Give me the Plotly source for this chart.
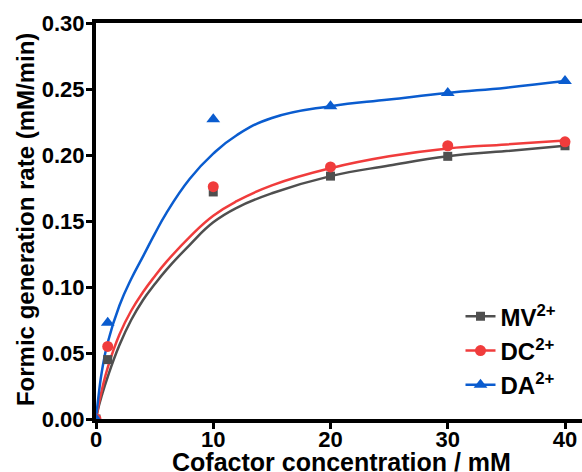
import plotly.graph_objects as go

# Measured data points
conc = [0, 1, 10, 20, 30, 40]
mv_rate = [0.0, 0.045, 0.172, 0.184, 0.199, 0.207]
dc_rate = [0.0, 0.055, 0.176, 0.191, 0.207, 0.210]
da_rate = [0.0, 0.073, 0.227, 0.237, 0.247, 0.256]

# Fitted curves
fit_x = [0, 0.25, 0.5, 1, 2, 3, 4, 5, 6, 8, 10, 12, 15, 20, 25, 30, 35, 40]
mv_fit = [0, 0.010, 0.018, 0.032, 0.056, 0.075, 0.090, 0.102, 0.113, 0.132,
          0.149, 0.160, 0.171, 0.184, 0.192, 0.199, 0.203, 0.207]
dc_fit = [0, 0.012, 0.022, 0.039, 0.064, 0.082, 0.096, 0.108, 0.119, 0.138,
          0.154, 0.165, 0.177, 0.190, 0.199, 0.205, 0.208, 0.211]
da_fit = [0, 0.020, 0.036, 0.058, 0.086, 0.106, 0.123, 0.140, 0.156, 0.182,
          0.201, 0.215, 0.228, 0.237, 0.242, 0.247, 0.251, 0.256]

names = ["MV<sup>2+</sup>", "DC<sup>2+</sup>", "DA<sup>2+</sup>"]
colors = ["#4f4f4f", "#f03c3c", "#0a5ccf"]
symbols = ["square", "circle", "triangle-up"]
msizes = [9, 11, 12]

x_ticks = [0, 10, 20, 30, 40]
y_ticks = [0.00, 0.05, 0.10, 0.15, 0.20, 0.25, 0.30]

x_title = "Cofactor concentration / mM"
y_title = "Formic generation rate (mM/min)"

FONT = "Arial, Liberation Sans, sans-serif"

fig = go.Figure()
for fy, c in zip([mv_fit, dc_fit, da_fit], colors):
    fig.add_trace(go.Scatter(x=fit_x, y=fy, mode="lines",
                             line=dict(color=c, width=2.5, shape="spline", smoothing=1.3),
                             showlegend=False, hoverinfo="skip"))
for dy, c, s, ms in zip([mv_rate, dc_rate, da_rate], colors, symbols, msizes):
    fig.add_trace(go.Scatter(x=conc, y=dy, mode="markers",
                             marker=dict(color=c, symbol=s, size=ms),
                             showlegend=False))
for n, c, s, ms in zip(names, colors, symbols, msizes):
    fig.add_trace(go.Scatter(x=[None], y=[None], mode="lines+markers", name=n,
                             line=dict(color=c, width=2.5),
                             marker=dict(color=c, symbol=s, size=ms)))

fig.update_layout(
    width=582, height=472,
    margin=dict(l=96, r=0, t=23, b=53, autoexpand=False),
    plot_bgcolor="white", paper_bgcolor="white",
    font=dict(family=FONT, size=22, color="black"),
    legend=dict(x=0.75, y=0.315, xanchor="left", yanchor="top",
                font=dict(family=FONT, size=24, color="black", weight="bold"),
                bgcolor="rgba(0,0,0,0)", tracegroupgap=0),
    xaxis=dict(range=[0, 41.45], tickvals=x_ticks, ticktext=[str(v) for v in x_ticks],
               showline=True, linewidth=4, linecolor="black", mirror=True,
               ticks="outside", ticklen=6, tickwidth=3, tickcolor="black",
               showgrid=False, zeroline=False, automargin=False,
               ticklabelstandoff=-8,
               tickfont=dict(family=FONT, size=22, color="black", weight="bold")),
    yaxis=dict(range=[0, 0.30], tickvals=y_ticks, ticktext=["%.2f" % v for v in y_ticks],
               showline=True, linewidth=4, linecolor="black", mirror=False,
               ticks="outside", ticklen=6, tickwidth=3, tickcolor="black",
               showgrid=False, zeroline=False, automargin=False,
               ticklabelstandoff=-3,
               tickfont=dict(family=FONT, size=22, color="black", weight="bold")),
    annotations=[
        dict(text=x_title, xref="paper", yref="paper", x=0.506, y=-0.068,
             xanchor="center", yanchor="top", showarrow=False,
             font=dict(family=FONT, size=25, color="black", weight="bold")),
        dict(text=y_title, xref="paper", yref="paper", x=-0.146, y=0.5025,
             xanchor="center", yanchor="middle", showarrow=False, textangle=-90,
             font=dict(family=FONT, size=24, color="black", weight="bold")),
    ],
)

fig.write_html("out.html")
